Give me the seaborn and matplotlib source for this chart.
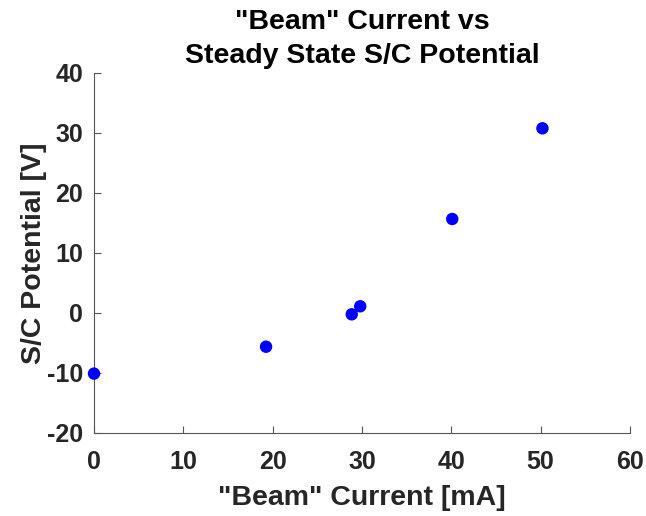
import matplotlib
matplotlib.use("Agg")
import matplotlib.pyplot as plt
import seaborn as sns
import pandas as pd

beam_current_mA = [0.0, 19.26, 28.85, 29.8, 40.1, 50.2]
sc_potential_V = [-10.1, -5.62, -0.22, 1.12, 15.67, 30.78]
x_ticks = [0, 10, 20, 30, 40, 50, 60]
y_ticks = [-20, -10, 0, 10, 20, 30, 40]

df = pd.DataFrame({"current": beam_current_mA, "potential": sc_potential_V})

sns.set_style("white")
plt.rcParams["font.family"] = ["Liberation Sans", "DejaVu Sans"]
plt.rcParams["xtick.direction"] = "in"
plt.rcParams["ytick.direction"] = "in"

fig = plt.figure(figsize=(6.46, 5.16), dpi=100)
ax = fig.add_axes([94/646, 1-433/516, (630-94)/646, (433-73)/516])
sns.scatterplot(data=df, x="current", y="potential", ax=ax, color="#0000ff",
                s=80, edgecolor="none", clip_on=False, zorder=3)

ax.set_xlim(0, 60)
ax.set_ylim(-20, 40)
ax.set_xticks(x_ticks)
ax.set_yticks(y_ticks)
ax.set_xticklabels([str(t) for t in x_ticks])
ax.set_yticklabels([str(t) for t in y_ticks])
for s in ["top", "right"]:
    ax.spines[s].set_visible(False)
for s in ["left", "bottom"]:
    ax.spines[s].set_color("#555555")
    ax.spines[s].set_linewidth(0.8)
ax.tick_params(direction="in", length=5, width=0.8, color="#555555",
               labelsize=18, labelcolor="#262626", bottom=True, left=True)
ax.tick_params(axis="x", pad=12)
ax.tick_params(axis="y", pad=8)
for lab in ax.get_xticklabels() + ax.get_yticklabels():
    lab.set_fontweight("bold")
ax.set_xlabel('"Beam" Current [mA]', fontsize=20.5, fontweight="bold", color="#262626", labelpad=8)
ax.set_ylabel("S/C Potential [V]", fontsize=20.5, fontweight="bold", color="#262626", labelpad=0)
ax.set_title('"Beam" Current vs\nSteady State S/C Potential', fontsize=20.5,
             fontweight="bold", color="black", pad=7, linespacing=1.4)

fig.savefig("out.png", dpi=100)
